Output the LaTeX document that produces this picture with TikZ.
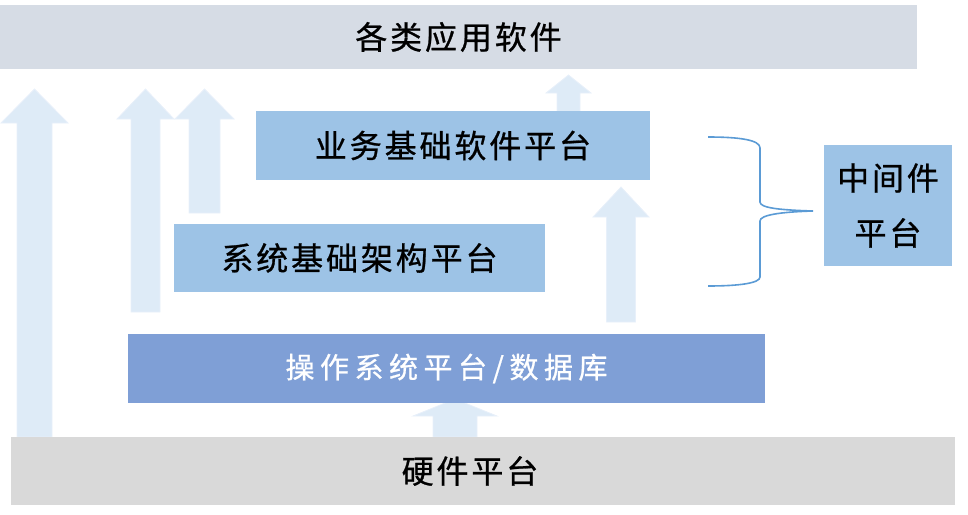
\documentclass[tikz,border=0pt]{standalone}
\usepackage{fontspec}
\newfontfamily\cjk[LetterSpace=9, FakeBold=0.8]{Noto Sans CJK SC}
\usetikzlibrary{positioning}
\definecolor{topgray}{HTML}{D6DCE5}
\definecolor{hwgray}{HTML}{D9D9D9}
\definecolor{boxblue}{HTML}{9DC3E6}
\definecolor{osblue}{HTML}{7F9FD6}
\definecolor{arrowfill}{HTML}{DEEBF7}
\definecolor{arrowedge}{HTML}{E8F0FA}
\definecolor{bracecol}{HTML}{5B9BD5}
\tikzset{
    layer/.style={rectangle, inner sep=0pt, font=\cjk\fontsize{32}{38}\selectfont},
    bigup/.style={fill=arrowfill, draw=arrowedge, line width=0.8pt}
}
% #1 centre x, #2 foot, #3 tip, #4 half shaft, #5 half head, #6 head length
\newcommand{\blockup}[6]{%
    \filldraw[bigup] ({#1-#4},#2) -- ({#1-#4},{#3+#6}) -- ({#1-#5},{#3+#6}) -- (#1,#3)
        -- ({#1+#5},{#3+#6}) -- ({#1+#4},{#3+#6}) -- ({#1+#4},#2) -- cycle;
}

\begin{document}
\begin{tikzpicture}[x=1pt, y=-1pt]
    \useasboundingbox (0,0) rectangle (968,514);
    \blockup{34.5}{437}{89}{17.5}{33.5}{34}
    \blockup{145.5}{312}{89}{14.5}{28.5}{30}
    \blockup{204.5}{213}{89}{15.5}{29.5}{30}
    \blockup{568.5}{112}{75}{11.5}{22.5}{18}
    \blockup{621}{322}{187}{14.5}{28}{30}
    \blockup{455}{437}{399}{22}{42}{17}
    \node[layer, fill=topgray, minimum width=917pt, minimum height=64pt] (apps) at (458.5,37) {各类应用软件};
    \node[layer, fill=boxblue, minimum width=394pt, minimum height=69pt] (biz) at (453,145.5) {业务基础软件平台};
    \node[layer, fill=boxblue, minimum width=371pt, minimum height=68pt] (sys) at (359.5,258) {系统基础架构平台};
    \node[layer, fill=osblue, text=white, minimum width=637pt, minimum height=69pt,
          font=\cjk\fontsize{29}{34}\selectfont\addfontfeature{LetterSpace=19}] (os) at (446.5,368.5) {操作系统平台/数据库};
    \node[layer, fill=hwgray, minimum width=944pt, minimum height=68pt] (hw) at (483,471) {};
    \node[layer, xshift=-13pt] (hwtext) at (hw) {硬件平台};
    \node[layer, fill=boxblue, minimum width=128pt, minimum height=121pt, align=center,
          font=\cjk\fontsize{32}{55}\selectfont] (mid) at (888,205.5) {中间件\\平台};
    \draw[bracecol, line width=1.6pt] (708,137) .. controls (740,137) and (760,140) .. (760,148)
        -- (760,202) .. controls (760,208) and (780,210) .. (813,211)
        .. controls (780,212) and (760,215) .. (760,221)
        -- (760,277) .. controls (760,283) and (740,286) .. (708,286);
\end{tikzpicture}
\end{document}
